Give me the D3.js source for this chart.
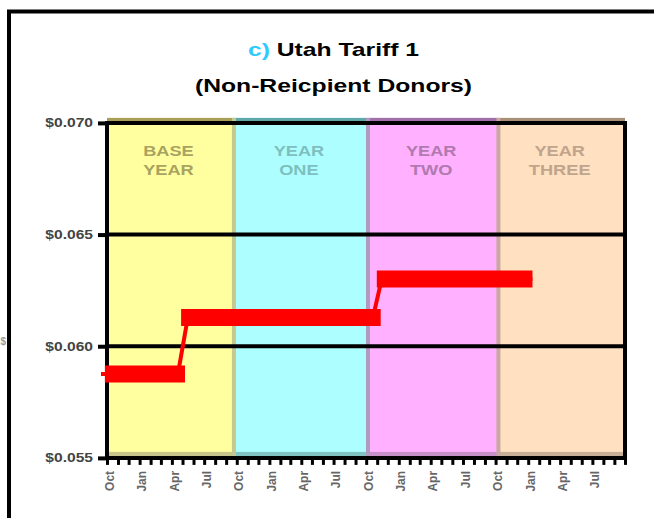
<!DOCTYPE html>
<html><head><meta charset="utf-8">
<script src="https://cdn.jsdelivr.net/npm/d3@7"></script>
<style>html,body{margin:0;padding:0;background:#fff;overflow:hidden}</style>
</head><body>
<svg id="c" width="654" height="518"></svg>
<script>
// ---- data ----
const titlePrefix = "c)";
const titleLine1 = " Utah Tariff 1";
const titleLine2 = "(Non-Reicpient Donors)";
const yTitle = "$";
const yTickValues = [0.055, 0.060, 0.065, 0.070];
const yTickLabels = ["$0.055", "$0.060", "$0.065", "$0.070"];
const gridValues = [0.060, 0.065];
const monthLabels = ["Oct", "Jan", "Apr", "Jul"];
const bandLabels = [["BASE", "YEAR"], ["YEAR", "ONE"], ["YEAR", "TWO"], ["YEAR", "THREE"]];
const bandStarts = ["2003-10-01", "2004-09-23", "2005-10-06", "2006-10-09"];
const bandEnds = ["2004-09-23", "2005-10-06", "2006-10-09", "2007-10-01"];
const tariffStarts = ["2003-09-25", "2004-04-27", "2005-10-31"];
const tariffEnds = ["2004-05-08", "2005-11-11", "2007-01-13"];
const tariffValues = [0.05876, 0.06129, 0.06301];
const stepDates = ["2003-09-14", "2004-04-18", "2004-05-16", "2005-10-20", "2005-11-14", "2007-01-13"];
const stepValues = [0.05876, 0.05876, 0.06129, 0.06129, 0.06301, 0.06301];
const axisStart = "2003-10-01", axisEnd = "2007-10-01";

// ---- styles ----
const bandFill = ["#FFFFA0", "#ADFFFF", "#FFB0FF", "#FFE0C0"];
const bandTop = ["#A8A058", "#5FA8A8", "#A070A8", "#A89078"];
const bandBottom = ["#C8C68A", "#80C4C4", "#C890C8", "#C8B098"];
const bandText = ["#A8A460", "#7FBFBF", "#B07AB0", "#C0A48C"];
const sepColor = ["#C3C98F", "#B09AC0", "#C8A8A0"];
const FONT = "'Liberation Sans', Arial, sans-serif";

const parse = d3.utcParse("%Y-%m-%d");
const svg = d3.select("#c");
const PL = 107, PR = 625;
const x = d3.scaleUtc().domain([parse(axisStart), parse(axisEnd)]).range([PL, PR]);
const y = d3.scaleLinear().domain([0.055, 0.070]).range([457.9, 122.9]);
const yTop = y(0.070), yBot = y(0.055);

function stretch(sel, k) {
  sel.each(function () {
    const len = this.getComputedTextLength();
    d3.select(this).attr("textLength", len * k).attr("lengthAdjust", "spacingAndGlyphs");
  });
}

// outer frame
svg.append("rect").attr("x", 9).attr("y", 11.5).attr("width", 700).attr("height", 600)
  .attr("fill", "none").attr("stroke", "#000").attr("stroke-width", 4);

// title
const t1 = svg.append("text").attr("x", 333.5).attr("y", 56).attr("text-anchor", "middle")
  .attr("font-family", FONT).attr("font-size", 19).attr("font-weight", "bold");
t1.append("tspan").attr("fill", "#2ECBFF").text(titlePrefix);
t1.append("tspan").attr("fill", "#000").text(titleLine1);
stretch(t1, 1.3);
const t2 = svg.append("text").attr("x", 333.5).attr("y", 92).attr("text-anchor", "middle")
  .attr("font-family", FONT).attr("font-size", 19).attr("font-weight", "bold").attr("fill", "#000")
  .text(titleLine2);
stretch(t2, 1.3);

// small axis title remnant at left edge
svg.append("text").attr("x", 0.5).attr("y", 345).attr("font-family", FONT).attr("font-size", 10)
  .attr("font-weight", "bold").attr("fill", "#999").text(yTitle);

// bands
const bands = bandStarts.map((s, i) => ({ s: parse(s), e: parse(bandEnds[i]), i }));
svg.selectAll("rect.band").data(bands).join("rect").attr("class", "band")
  .attr("x", d => x(d.s)).attr("width", d => x(d.e) - x(d.s))
  .attr("y", yTop - 5).attr("height", yBot - yTop + 5).attr("fill", d => bandFill[d.i]);
svg.selectAll("rect.btop").data(bands).join("rect").attr("class", "btop")
  .attr("x", d => x(d.s)).attr("width", d => x(d.e) - x(d.s))
  .attr("y", yTop - 5).attr("height", 4).attr("fill", d => bandTop[d.i]);
svg.selectAll("rect.bbot").data(bands).join("rect").attr("class", "bbot")
  .attr("x", d => x(d.s)).attr("width", d => x(d.e) - x(d.s))
  .attr("y", yBot - 6).attr("height", 6).attr("fill", d => bandBottom[d.i]);
svg.selectAll("rect.sep").data(bands.slice(1)).join("rect").attr("class", "sep")
  .attr("x", d => x(d.s) - 2).attr("width", 4)
  .attr("y", yTop - 5).attr("height", yBot - yTop + 5).attr("fill", d => sepColor[d.i - 1]);

// band labels
bands.forEach(d => {
  const cx = (x(d.s) + x(d.e)) / 2 - 2;
  bandLabels[d.i].forEach((w, j) => {
    const t = svg.append("text").attr("x", cx).attr("y", yTop + 33 + j * 19)
      .attr("text-anchor", "middle").attr("font-family", FONT).attr("font-size", 14)
      .attr("font-weight", "bold").attr("fill", bandText[d.i]).text(w);
    stretch(t, 1.3);
  });
});

// gridlines
svg.selectAll("line.grid").data(gridValues).join("line").attr("class", "grid")
  .attr("x1", PL).attr("x2", PR).attr("y1", d => y(d)).attr("y2", d => y(d))
  .attr("stroke", "#000").attr("stroke-width", 4);

// plot box
svg.append("line").attr("x1", PL - 2).attr("x2", PR + 2).attr("y1", yTop).attr("y2", yTop).attr("stroke", "#000").attr("stroke-width", 4);
svg.append("line").attr("x1", PL - 2).attr("x2", PR + 2).attr("y1", yBot).attr("y2", yBot).attr("stroke", "#000").attr("stroke-width", 4);
svg.append("line").attr("x1", PL).attr("x2", PL).attr("y1", yTop).attr("y2", yBot).attr("stroke", "#000").attr("stroke-width", 4);
svg.append("line").attr("x1", PR).attr("x2", PR).attr("y1", yTop).attr("y2", yBot).attr("stroke", "#000").attr("stroke-width", 4);

// y axis
const yAxis = svg.append("g").attr("transform", `translate(${PL},0)`)
  .call(d3.axisLeft(y).tickValues(yTickValues).tickSize(9).tickPadding(5)
    .tickFormat((d, i) => yTickLabels[i]));
yAxis.select(".domain").remove();
yAxis.selectAll(".tick line").attr("stroke", "#000").attr("stroke-width", 4);
yAxis.selectAll(".tick text").attr("font-family", FONT).attr("font-size", 12)
  .attr("font-weight", "bold").attr("fill", "#444");
stretch(yAxis.selectAll(".tick text"), 1.3);

// x axis
const months = d3.utcMonth.range(parse(axisStart), d3.utcDay.offset(parse(axisEnd), 1));
const labelFor = d => {
  const m = d.getUTCMonth();
  if (+d >= +parse(axisEnd) || m % 3 !== 0) return "";
  return monthLabels[((m - 9 + 12) % 12) / 3];
};
const xAxis = svg.append("g").attr("transform", `translate(0,${yBot})`)
  .call(d3.axisBottom(x).tickValues(months).tickSize(7).tickSizeOuter(0).tickFormat(labelFor));
xAxis.select(".domain").remove();
xAxis.selectAll(".tick line").attr("stroke", "#000").attr("stroke-width", 3);
xAxis.selectAll(".tick text").attr("transform", "rotate(-90)").attr("text-anchor", "end")
  .attr("x", -13).attr("y", 2).attr("dy", "0.35em")
  .attr("font-family", FONT).attr("font-size", 12).attr("font-weight", "bold").attr("fill", "#666");

// tariff data
const pts = stepDates.map((s, i) => [x(parse(s)), y(stepValues[i])]);
svg.append("path").attr("d", d3.line()(pts)).attr("fill", "none").attr("stroke", "#FF0000")
  .attr("stroke-width", 4);
svg.selectAll("line.tariff").data(tariffValues).join("line").attr("class", "tariff")
  .attr("x1", (d, i) => x(parse(tariffStarts[i]))).attr("x2", (d, i) => x(parse(tariffEnds[i])))
  .attr("y1", d => y(d)).attr("y2", d => y(d))
  .attr("stroke", "#FF0000").attr("stroke-width", 17);
</script>
</body></html>
